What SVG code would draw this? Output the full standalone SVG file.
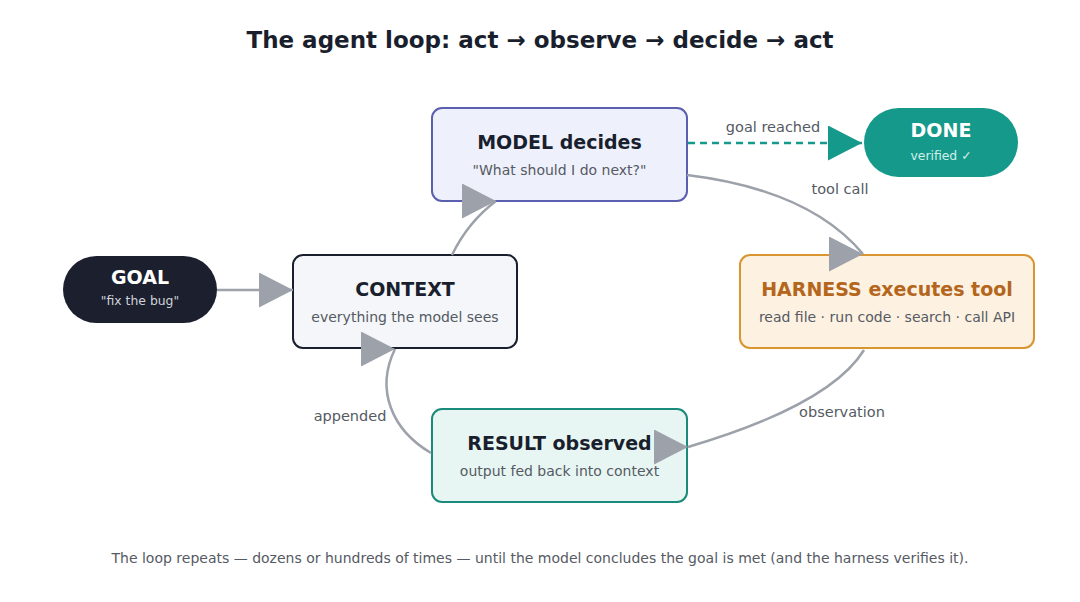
<svg xmlns="http://www.w3.org/2000/svg" width="1080" height="602" viewBox="0 0 1080 602">
  <style>
    .t { font-family: "DejaVu Sans", "Liberation Sans", sans-serif; text-anchor: middle; }
    .ttl { font-weight: bold; font-size: 19px; fill: #1a1f2e; }
    .sub { font-size: 14px; fill: #555a63; }
    .lbl { font-size: 14.5px; fill: #555a63; }
    .edge { fill: none; stroke: #9ca1aa; stroke-width: 2.5; marker-end: url(#ah); }
  </style>
  <defs>
    <marker id="ah" markerUnits="userSpaceOnUse" viewBox="0 0 34 35" markerWidth="34" markerHeight="35" refX="34" refY="17.5" orient="0">
      <path d="M0,0 L34,17.5 L0,35 Z" fill="#9ca1aa"/>
    </marker>
    <marker id="ahd" markerUnits="userSpaceOnUse" viewBox="0 0 34 35" markerWidth="34" markerHeight="35" refX="34" refY="17.5" orient="0">
      <path d="M0,0 L34,17.5 L0,35 Z" fill="#15998a"/>
    </marker>
  </defs>
  <rect width="1080" height="602" fill="#ffffff"/>
  <text class="t" x="540" y="48" style="font-weight:bold;font-size:23px;fill:#1a1f2e">The agent loop: act → observe → decide → act</text>

  <g id="goal">
    <rect x="63" y="256" width="154" height="67" rx="33.5" fill="#1b1f2e"/>
    <text class="t" x="140" y="284" style="font-weight:bold;font-size:19px;fill:#ffffff">GOAL</text>
    <text class="t" x="140" y="305" style="font-size:12.4px;fill:#d0d3da">"fix the bug"</text>
  </g>

  <g id="context">
    <rect x="293" y="255" width="224" height="93" rx="10" fill="#f4f6f9" stroke="#1a1f2e" stroke-width="2"/>
    <text class="t ttl" x="405" y="296">CONTEXT</text>
    <text class="t sub" x="405" y="322">everything the model sees</text>
  </g>

  <g id="model">
    <rect x="432" y="108" width="255" height="93" rx="10" fill="#eef0fb" stroke="#5a5fb0" stroke-width="2"/>
    <text class="t ttl" x="559.5" y="149">MODEL decides</text>
    <text class="t sub" x="559.5" y="175">"What should I do next?"</text>
  </g>

  <g id="done">
    <rect x="864" y="108" width="154" height="69" rx="34.5" fill="#15998a"/>
    <text class="t" x="941" y="137" style="font-weight:bold;font-size:19px;fill:#ffffff">DONE</text>
    <text class="t" x="941" y="160" style="font-size:12.4px;fill:#d2efea">verified ✓</text>
  </g>

  <g id="harness">
    <rect x="740" y="255" width="294" height="93" rx="10" fill="#fdf1e1" stroke="#d9952f" stroke-width="2"/>
    <text class="t ttl" x="887" y="296" style="fill:#b4661c">HARNESS executes tool</text>
    <text class="t sub" x="887" y="322">read file · run code · search · call API</text>
  </g>

  <g id="result">
    <rect x="432" y="409" width="255" height="93" rx="10" fill="#e8f6f3" stroke="#1a8a7a" stroke-width="2"/>
    <text class="t ttl" x="559.5" y="450">RESULT observed</text>
    <text class="t sub" x="559.5" y="476">output fed back into context</text>
  </g>

  <g id="connectors">
    <path class="edge" d="M217,290 L293,290"/>
    <path class="edge" d="M452,255 Q468,222 496,201"/>
    <path class="edge" d="M687,175 Q810,190 863,254"/>
    <path class="edge" d="M864,350 Q830,405 688,447"/>
    <path class="edge" d="M431,453 C392,430 375,390 395,349"/>
    <path d="M688,143 L862,143" fill="none" stroke="#15998a" stroke-width="2.5" stroke-dasharray="7,5" marker-end="url(#ahd)"/>
    <text class="t lbl" x="773" y="132">goal reached</text>
    <text class="t lbl" x="840" y="194">tool call</text>
    <text class="t lbl" x="842" y="417">observation</text>
    <text class="t lbl" x="350" y="421">appended</text>
  </g>

  <text class="t" x="540" y="563" style="font-size:14px;fill:#555a63">The loop repeats — dozens or hundreds of times — until the model concludes the goal is met (and the harness verifies it).</text>
</svg>
